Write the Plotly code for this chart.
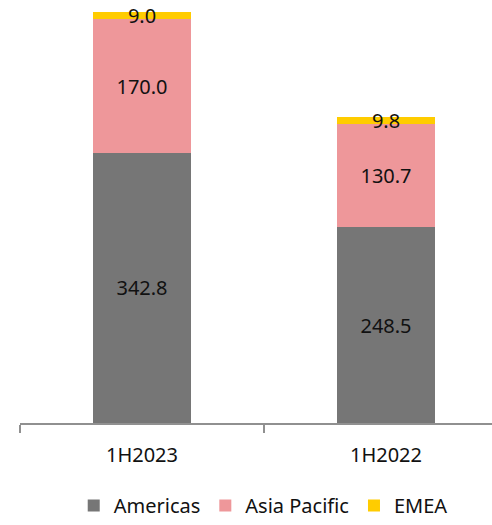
import plotly.graph_objects as go

# Revenue by region, stacked per half-year period
periods = ["1H2023", "1H2022"]
americas = [342.8, 248.5]
asia_pacific = [170.0, 130.7]
emea = [9.0, 9.8]

series = [
    ("Americas", americas, "#767676"),
    ("Asia Pacific", asia_pacific, "#EE979A"),
    ("EMEA", emea, "#FFCC00"),
]

FONT = "Noto Sans"
TEXT_COLOR = "#111111"

fig = go.Figure()
for name, values, color in series:
    fig.add_trace(go.Bar(
        name=name,
        x=periods,
        y=values,
        marker=dict(color=color, line=dict(width=0)),
        text=[f"{v:.1f}" for v in values],
        textposition="inside",
        insidetextanchor="middle",
        textangle=0,
        textfont=dict(family=FONT, size=20, color=TEXT_COLOR),
        cliponaxis=False,
        hoverinfo="skip",
    ))

# plot spans from x=20 to the right edge; categories are 244 px apart
plot_w = 492 - 20
cat_px = 244
fig.update_layout(
    barmode="stack",
    bargap=0.6,
    width=492,
    height=525,
    margin=dict(l=20, r=0, t=0, b=102),
    paper_bgcolor="white",
    plot_bgcolor="white",
    font=dict(family=FONT, size=20, color=TEXT_COLOR),
    uniformtext=dict(minsize=20, mode="show"),
    showlegend=True,
    legend=dict(
        orientation="h",
        xref="container", yref="container",
        x=0.535, xanchor="center",
        y=0.0, yanchor="bottom",
        font=dict(family=FONT, size=20, color=TEXT_COLOR),
        itemclick=False, itemdoubleclick=False,
        traceorder="normal",
    ),
    xaxis=dict(
        type="category",
        range=[-0.5, -0.5 + plot_w / cat_px],
        showline=True,
        linecolor="#909090",
        linewidth=2,
        ticks="outside",
        tickson="boundaries",
        ticklen=8,
        tickwidth=2,
        tickcolor="#909090",
        ticklabelstandoff=13,
        showgrid=False,
        zeroline=False,
        tickfont=dict(family=FONT, size=20, color=TEXT_COLOR),
        fixedrange=True,
    ),
    yaxis=dict(
        range=[0, 537],
        visible=False,
        showgrid=False,
        zeroline=False,
        fixedrange=True,
    ),
)

fig.write_html("out.html")
